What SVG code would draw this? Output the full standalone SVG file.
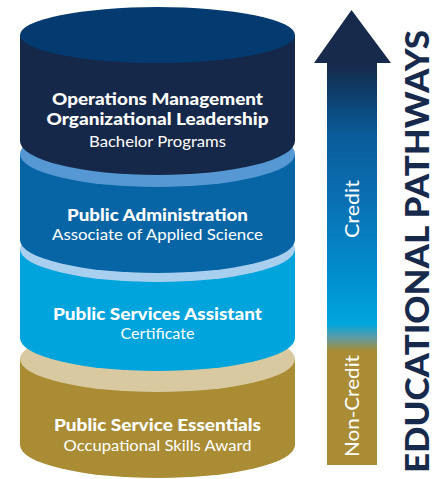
<svg xmlns="http://www.w3.org/2000/svg" width="441" height="479" viewBox="0 0 441 479">
  <style>
    .t { font-family: Lato, "Open Sans", "Liberation Sans", sans-serif; fill: #ffffff; text-anchor: middle; }
    .b { font-weight: 900; font-size: 16.5px; }
    .r { font-weight: 400; font-size: 15px; }
    .title { font-family: Lato, "Open Sans", "Liberation Sans", sans-serif; font-weight: 900; font-size: 32px; fill: #172a4c; text-anchor: middle; }
    .lbl { font-family: Lato, "Open Sans", "Liberation Sans", sans-serif; font-weight: 400; font-size: 18.5px; fill: #ffffff; text-anchor: middle; }
  </style>
  <defs>
    <linearGradient id="shaft" gradientUnits="userSpaceOnUse" x1="0" y1="10" x2="0" y2="465">
      <stop offset="0" stop-color="#172a4c"/>
      <stop offset="0.12" stop-color="#172a4c"/>
      <stop offset="0.18" stop-color="#0d3c68"/>
      <stop offset="0.27" stop-color="#0a5b99"/>
      <stop offset="0.42" stop-color="#0a70b3"/>
      <stop offset="0.59" stop-color="#0090cf"/>
      <stop offset="0.69" stop-color="#00a6de"/>
      <stop offset="0.72" stop-color="#5e9ba5"/>
      <stop offset="0.75" stop-color="#a98c34"/>
      <stop offset="1" stop-color="#a98c34"/>
    </linearGradient>
  </defs>

  <g id="level-4-public-service-essentials">
    <path d="M20,359 L20,445 A137.5,33 0 0 0 295,445 L295,359 Z" fill="#a98c34"/>
    <ellipse cx="157.5" cy="359" rx="137.5" ry="33" fill="#d9c9a0"/>
  </g>
  <g id="level-3-public-services-assistant">
    <path d="M20,249 L20,338 A137.5,33 0 0 0 295,338 L295,249 Z" fill="#00a4dd"/>
    <ellipse cx="157.5" cy="249" rx="137.5" ry="33" fill="#a9cfef"/>
  </g>
  <g id="level-2-public-administration">
    <path d="M20,154 L20,240 A137.5,33 0 0 0 295,240 L295,154 Z" fill="#0765a6"/>
    <ellipse cx="157.5" cy="154" rx="137.5" ry="33" fill="#5598d3"/>
  </g>
  <g id="level-1-bachelor-programs">
    <path d="M20,35 L20,141 A137.5,34 0 0 0 295,141 L295,35 Z" fill="#162849"/>
    <ellipse cx="157.5" cy="35" rx="137.5" ry="28" fill="#033b71"/>
  </g>

  <g id="labels">
    <text class="t b" x="157.5" y="105" textLength="211" lengthAdjust="spacingAndGlyphs">Operations Management</text>
    <text class="t b" x="157.5" y="125" textLength="222" lengthAdjust="spacingAndGlyphs">Organizational Leadership</text>
    <text class="t r" x="157.5" y="147" textLength="137" lengthAdjust="spacingAndGlyphs">Bachelor Programs</text>

    <text class="t b" x="157.5" y="221" textLength="181" lengthAdjust="spacingAndGlyphs">Public Administration</text>
    <text class="t r" x="157.5" y="240" textLength="211" lengthAdjust="spacingAndGlyphs">Associate of Applied Science</text>

    <text class="t b" x="157.5" y="320" textLength="209" lengthAdjust="spacingAndGlyphs">Public Services Assistant</text>
    <text class="t r" x="157.5" y="339" textLength="74" lengthAdjust="spacingAndGlyphs">Certificate</text>

    <text class="t b" x="157.5" y="431" textLength="207" lengthAdjust="spacingAndGlyphs">Public Service Essentials</text>
    <text class="t r" x="157.5" y="451" textLength="188" lengthAdjust="spacingAndGlyphs">Occupational Skills Award</text>
  </g>

  <g id="connectors">
    <path id="pathway-arrow" d="M351.5,10 L391,63 L377,63 L377,465 L327,465 L327,63 L314,63 Z" fill="url(#shaft)"/>
    <text class="lbl" transform="translate(359,209) rotate(-90)" textLength="58" lengthAdjust="spacingAndGlyphs">Credit</text>
    <text class="lbl" transform="translate(359,406) rotate(-90)" textLength="102" lengthAdjust="spacingAndGlyphs">Non-Credit</text>
  </g>

  <g id="title">
    <text class="title" transform="translate(429,251.5) rotate(-90)" textLength="443" lengthAdjust="spacingAndGlyphs">EDUCATIONAL PATHWAYS</text>
  </g>
</svg>
